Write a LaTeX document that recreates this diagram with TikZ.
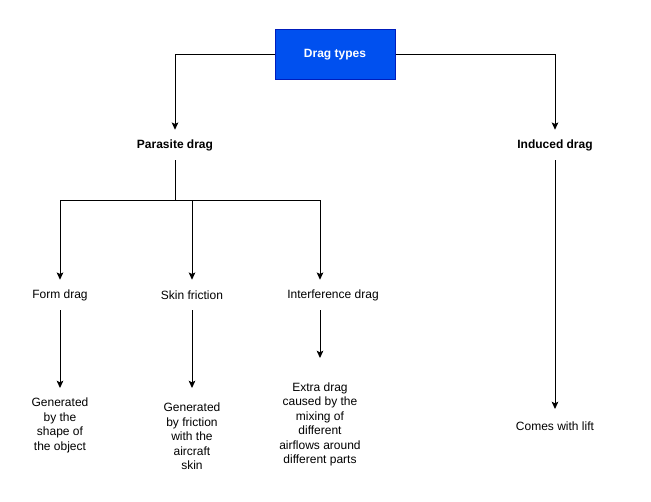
\documentclass[tikz,border=0pt]{standalone}
\usepackage{fontspec}
\setmainfont{Liberation Sans}
\usetikzlibrary{arrows.meta}
\definecolor{dtblue}{HTML}{0050EF}
\definecolor{dtborder}{HTML}{001DBC}
\tikzset{
  x=0.75pt, y=-0.75pt,
  lbl/.style={align=center, inner sep=0pt, font=\fontsize{9}{10.9}\selectfont, text=black},
  head/.style={lbl, font=\fontsize{9}{10.9}\selectfont\bfseries},
  arr/.style={draw=black, line width=0.75pt, -{Stealth[length=5.5pt,width=5pt,inset=1.2pt]}},
  ln/.style={draw=black, line width=0.75pt}
}
\begin{document}
\begin{tikzpicture}
\useasboundingbox (0,0) rectangle (651,502);
\fill[white] (0,0) rectangle (651,502);
% top box
\node[draw=dtborder, fill=dtblue, line width=0.75pt, minimum width=90pt, minimum height=37.5pt, inner sep=0pt, text=white, font=\fontsize{9}{10.9}\selectfont\bfseries] (top) at (335,55) {Drag types};
% level 1
\node[head, minimum height=22.5pt] (parasite) at (175,145) {Parasite drag};
\node[head, minimum height=22.5pt] (induced) at (555,145) {Induced drag};
% level 2
\node[lbl, minimum height=22.5pt] (form) at (60,295) {Form drag};
\node[lbl, minimum height=22.5pt] (skin) at (192,295) {Skin friction};
\node[lbl, minimum height=22.5pt] (interf) at (333,295) {Interference drag};
% descriptions
\node[lbl, anchor=north, minimum height=55.5pt] (formd) at (60,388) {Generated\\by the\\shape of\\the object};
\node[lbl, anchor=north, minimum height=72pt] (skind) at (192,388) {Generated\\by friction\\with the\\aircraft\\skin};
\node[lbl, anchor=north, minimum height=99pt] (interfd) at (320,358) {Extra drag\\caused by the\\mixing of\\different\\airflows around\\different parts};
\node[lbl, anchor=north, minimum height=25.5pt] (lift) at (555,409) {Comes with lift};
% connectors
\draw[arr] (top.west) -| (parasite.north);
\draw[arr] (top.east) -| (induced.north);
\draw[arr] (parasite.south) -- ++(0,40) -| (form.north);
\draw[arr] (parasite.south) -- ++(0,40) -| (skin.north);
\draw[arr] (parasite.south) -- ++(0,40) -| ([xshift=-9.75pt]interf.north);
\draw[arr] (induced.south) -- (lift.north);
\draw[arr] (form.south) -- (formd.north);
\draw[arr] (skin.south) -- (skind.north);
\draw[arr] ([xshift=-9.75pt]interf.south) -- (interfd.north);
\end{tikzpicture}
\end{document}
